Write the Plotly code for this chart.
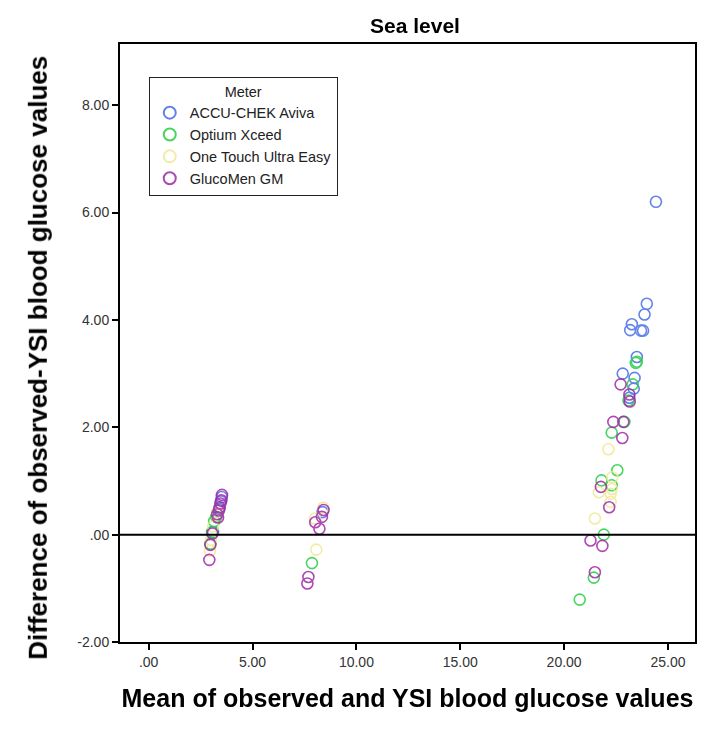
import plotly.graph_objects as go

# Bland-Altman style data per meter (mean, difference)
accu_x = [3.10, 3.40, 3.48, 3.52, 8.37, 24.42, 23.98, 23.87, 23.26, 23.18, 23.70,
          23.80, 23.50, 22.82, 23.39, 23.35, 23.14]
accu_y = [0.05, 0.48, 0.62, 0.70, 0.42, 6.20, 4.30, 4.10, 3.92, 3.81, 3.80,
          3.80, 3.31, 3.00, 2.92, 2.72, 2.55]

opt_x = [2.97, 3.15, 3.25, 3.05, 7.86, 23.45, 23.50, 23.30, 22.90, 22.29, 22.56,
         21.80, 22.29, 21.91, 21.43, 20.75, 23.10]
opt_y = [-0.17, 0.25, 0.33, 0.05, -0.53, 3.20, 3.22, 2.80, 2.10, 1.90, 1.20,
         1.01, 0.92, 0.00, -0.80, -1.21, 2.50]

one_x = [3.10, 3.00, 3.30, 2.95, 8.07, 8.00, 8.40, 22.13, 22.32, 21.67, 22.24,
         22.24, 21.48, 22.30]
one_y = [0.15, -0.10, 0.42, -0.30, -0.28, 0.30, 0.50, 1.59, 1.07, 0.79, 0.76,
         0.61, 0.30, 0.85]

gluco_x = [2.92, 2.97, 3.07, 3.34, 3.42, 3.50, 3.53, 3.45, 3.38, 3.30,
           7.69, 7.64, 8.22, 8.02, 8.34, 8.42,
           22.72, 23.14, 23.16, 22.37, 22.85, 22.80, 21.77, 22.17, 21.27, 21.84, 21.48]
gluco_y = [-0.47, -0.19, 0.02, 0.32, 0.51, 0.64, 0.74, 0.58, 0.45, 0.38,
           -0.79, -0.91, 0.11, 0.23, 0.33, 0.46,
           2.80, 2.61, 2.48, 2.10, 2.10, 1.80, 0.89, 0.51, -0.11, -0.21, -0.70]

y_ticks = [-2, 0, 2, 4, 6, 8]
y_tick_text = ["-2.00", ".00", "2.00", "4.00", "6.00", "8.00"]
x_ticks = [0, 5, 10, 15, 20, 25]
x_tick_text = [".00", "5.00", "10.00", "15.00", "20.00", "25.00"]

series = [
    ("ACCU-CHEK Aviva", accu_x, accu_y, "rgb(70,110,230)"),
    ("Optium Xceed", opt_x, opt_y, "rgb(40,205,70)"),
    ("One Touch Ultra Easy", one_x, one_y, "rgb(240,232,150)"),
    ("GlucoMen GM", gluco_x, gluco_y, "rgb(160,40,165)"),
]

fig = go.Figure()
for name, xs, ys, col in series:
    fig.add_trace(go.Scatter(
        x=xs, y=ys, mode="markers", name=name,
        marker=dict(symbol="circle-open", size=11, color=col,
                    line=dict(width=1.6, color=col)),
        opacity=0.85,
    ))

fig.add_shape(type="line", xref="paper", x0=0, x1=1, yref="y", y0=0, y1=0,
              line=dict(color="black", width=2))

# y title sits a little below the plot centre in the original, so use an annotation
fig.add_annotation(text="<b>Difference of observed-YSI blood glucose values</b>",
                   xref="paper", yref="paper", x=-0.143, y=0.475,
                   xanchor="center", yanchor="middle", textangle=-90,
                   showarrow=False, font=dict(size=26, color="black"))

axis_common = dict(showgrid=False, zeroline=False, showline=True, linecolor="black",
                   linewidth=2, mirror=True, ticks="outside", ticklen=6,
                   tickcolor="black", tickwidth=2, automargin=False,
                   tickfont=dict(family="Liberation Sans", size=14, color="#333"))

# page body has an 8px margin, so the figure is a bit smaller than the window
fig.update_layout(
    width=716, height=721,
    margin=dict(l=112, r=29, t=36, b=87),
    paper_bgcolor="white", plot_bgcolor="white",
    font=dict(family="Liberation Sans", color="black"),
    title=dict(text="<b>Sea level</b>", x=0.513, xref="paper", xanchor="center",
               y=0.975, yref="container", yanchor="middle",
               font=dict(size=21, color="black")),
    xaxis=dict(range=[-1.38, 26.3], tickvals=x_ticks, ticktext=x_tick_text,
               title=dict(text="<b>Mean of observed and YSI blood glucose values</b>",
                          font=dict(size=25, color="black"), standoff=21),
               **axis_common),
    yaxis=dict(range=[-2, 9.14], tickvals=y_ticks, ticktext=y_tick_text,
               **axis_common),
    legend=dict(x=0.05, y=0.945, xanchor="left", yanchor="top",
                bordercolor="#222", borderwidth=1, bgcolor="white",
                title=dict(text="Meter", side="top center", font=dict(size=14.5)),
                font=dict(size=14.5, color="#222"), tracegroupgap=0,
                itemsizing="constant"),
    showlegend=True,
)

fig.write_html("out.html")
